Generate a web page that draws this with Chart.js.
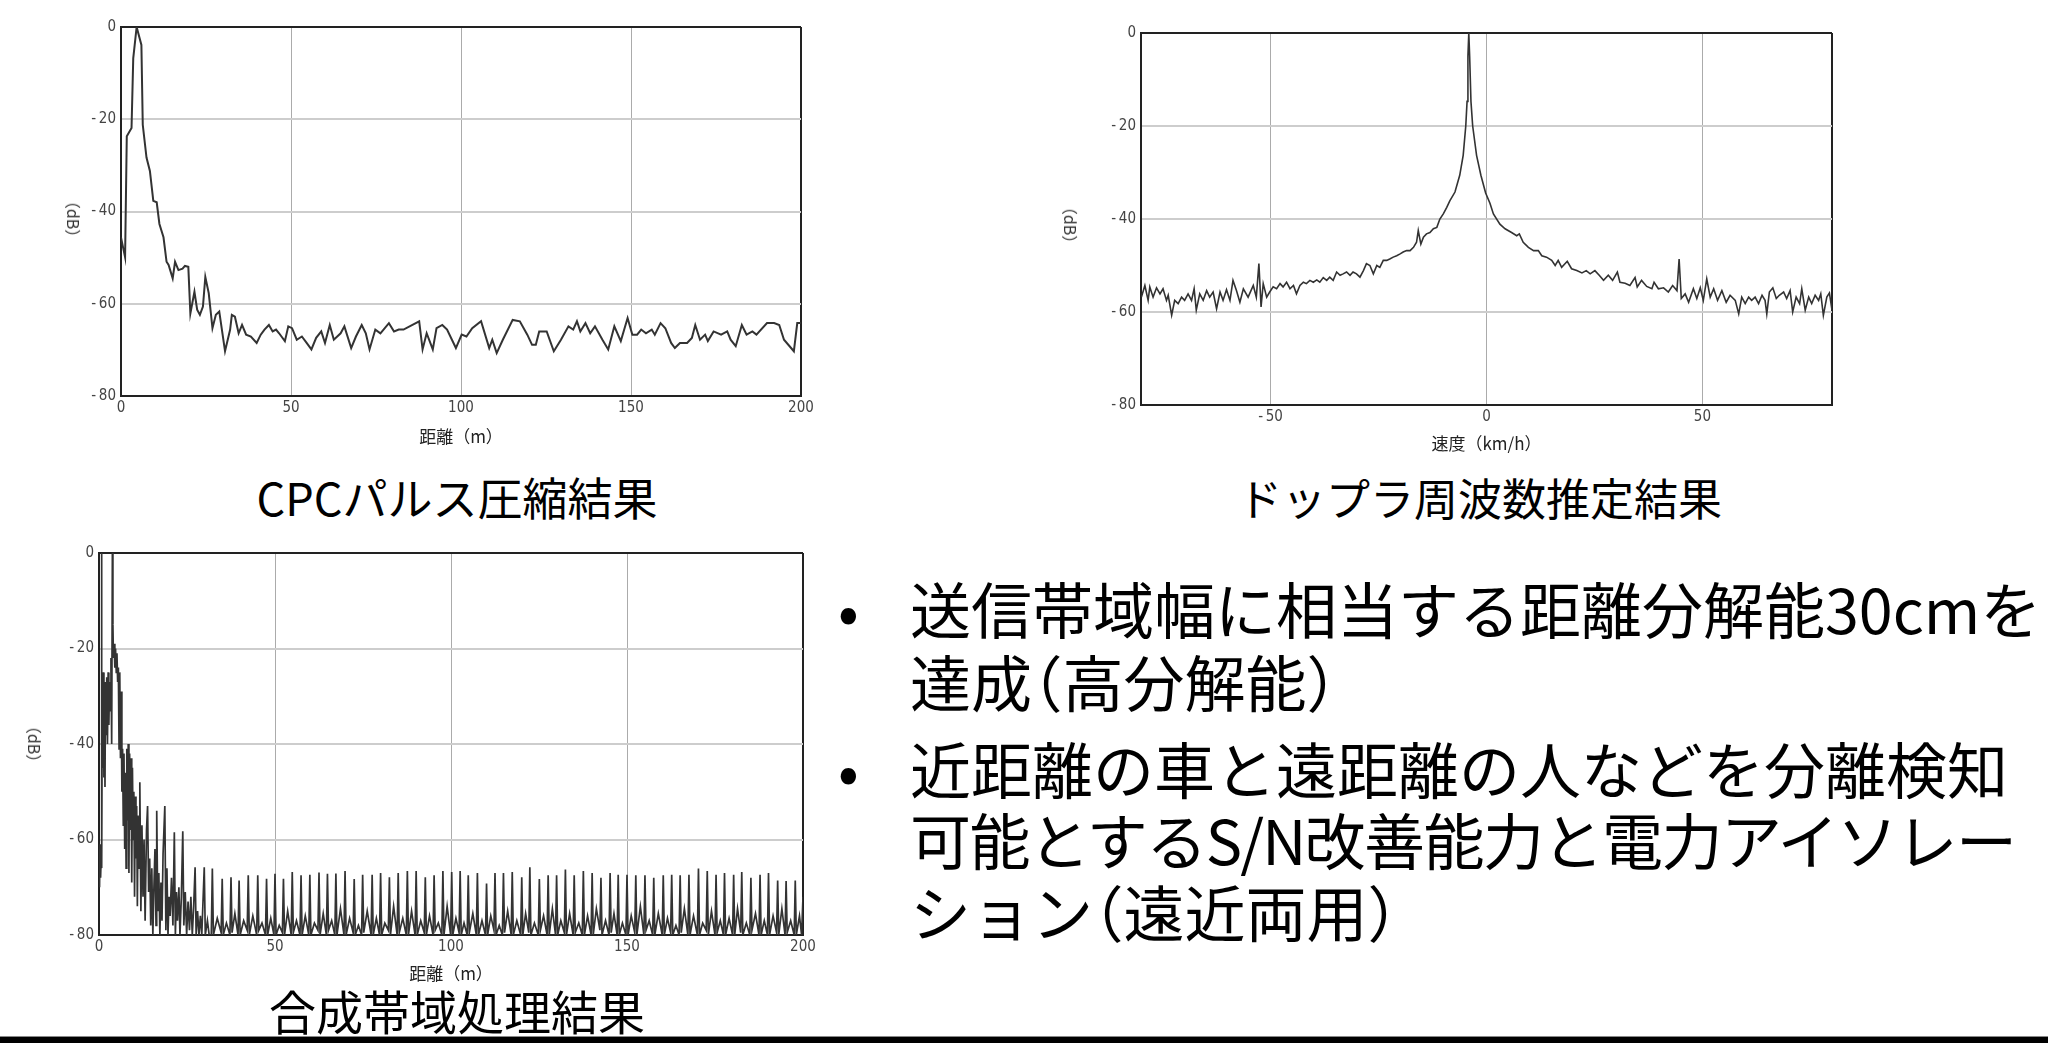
<!DOCTYPE html>
<html lang="ja">
<head>
<meta charset="utf-8">
<title>CPCパルス圧縮・ドップラ周波数推定・合成帯域処理</title>
<script src="https://cdn.jsdelivr.net/npm/chart.js@4.4.1/dist/chart.umd.min.js"></script>
<style>
  html, body { margin: 0; padding: 0; background: #fff; }
  body { width: 2048px; height: 1044px; position: relative; overflow: hidden;
         font-family: "Noto Sans CJK JP", sans-serif; color: #000; }
  .plot { position: absolute; }
  .ylab { position: absolute; font-size: 16px; color: #333; white-space: nowrap;
          transform: translate(-50%, -50%) rotate(90deg); }
  .cap { position: absolute; width: 800px; text-align: center; line-height: 1; white-space: nowrap; }
  .line { position: absolute; left: 910px; font-size: 61px; line-height: 1; white-space: nowrap;
          font-feature-settings: "halt"; }
  .tight { letter-spacing: -1.5px; }
  .narrow { letter-spacing: -0.03em; }
  .dot { position: absolute; left: 838px; font-size: 61px; line-height: 1; }
  .rule { position: absolute; left: 0; top: 1036px; width: 2048px; height: 6px;
          background: #000; border-top: 1px solid #888; }
</style>
</head>
<body>

<div class="plot" style="left:61px;top:13px;width:760px;height:435px"><canvas id="cpc"></canvas></div>
<div class="plot" style="left:1081px;top:19px;width:771px;height:438px"><canvas id="doppler"></canvas></div>
<div class="plot" style="left:39px;top:539px;width:784px;height:448px"><canvas id="synth"></canvas></div>

<div class="ylab" style="left:74px;top:219px">（dB）</div>
<div class="ylab" style="left:1071px;top:225px">（dB）</div>
<div class="ylab" style="left:35px;top:744px">（dB）</div>

<div class="cap" style="left:57px;top:474px;font-size:45px">CPCパルス圧縮結果</div>
<div class="cap" style="left:1080px;top:475px;font-size:44px">ドップラ周波数推定結果</div>
<div class="cap" style="left:57px;top:986px;font-size:47px">合成帯域処理結果</div>

<div class="dot" style="top:577px">•</div>
<div class="line" style="top:577px">送信帯域幅に相当する距離分解能30cmを</div>
<div class="line" style="top:650px">達成（高分解能）</div>
<div class="dot" style="top:737px">•</div>
<div class="line" style="top:737px">近距離の車と遠距離の人などを分離検知</div>
<div class="line tight" style="top:808px">可能とする<span class="narrow">S/N</span>改善能力と電力アイソレー</div>
<div class="line" style="top:880px">ション（遠近両用）</div>

<div class="rule"></div>

<script>
// ---- tick labels ----
const levelTicks = [0, -20, -40, -60, -80];
const rangeTicks = [0, 50, 100, 150, 200];
const speedTicks = [-50, 0, 50];

// ---- CPC pulse compression: range (m) vs level (dB) ----
const rangeDist = [
  0, 1.2, 1.7, 3.1, 3.6, 4.6, 6.0, 6.4, 7.5, 8.5,
  9.5, 10.5, 11.3, 12.5, 13.4, 14.0, 15.2, 15.9, 16.9, 18.1,
  18.8, 19.8, 20.4, 21.6, 22.4, 23.2, 24.1, 24.8, 25.8, 26.9,
  27.9, 28.9, 30.6, 32.1, 32.6, 33.5, 34.6, 35.6, 36.8, 38.2,
  39.9, 41.1, 42.2, 43.5, 44.6, 45.6, 46.5, 47.2, 48.2, 49.2,
  50.3, 51.7, 53.2, 54.6, 56.0, 57.4, 58.9, 60.0, 61.4, 62.6,
  64.6, 65.7, 67.7, 69.1, 70.8, 72.0, 73.1, 74.8, 76.3, 78.8,
  80.3, 81.7, 83.1, 87.7, 88.7, 89.9, 91.7, 92.8, 94.5, 95.9,
  98.5, 100.2, 101.6, 103.3, 105.9, 108.3, 109.2, 110.5, 112.3, 115.2,
  117.3, 119.5, 120.9, 122.0, 123.0, 125.2, 127.3, 129.4, 131.6, 133.0,
  134.1, 135.1, 136.6, 138.0, 139.4, 141.6, 143.3, 145.1, 147.0, 149.0,
  150.4, 151.8, 153.0, 154.4, 156.1, 157.0, 158.7, 160.1, 161.8, 162.9,
  164.4, 166.5, 167.9, 168.9, 170.3, 171.8, 172.6, 174.3, 176.5, 178.3,
  179.3, 180.8, 182.6, 184.0, 185.7, 186.9, 190.0, 192.1, 193.6, 195.0,
  197.9, 198.9, 200
];
const rangeLevel = [
  -45.6, -49.9, -23.7, -21.9, -6.8, 0, -3.9, -21.2, -28.3, -31.2,
  -37.7, -38.0, -42.7, -45.6, -50.9, -51.6, -54.5, -50.9, -52.7, -52.4,
  -51.8, -52.0, -62.1, -57.4, -61.3, -62.4, -60.6, -54.2, -57.7, -65.3,
  -62.4, -61.7, -70.3, -65.6, -62.4, -62.8, -66.4, -64.6, -66.7, -67.1,
  -68.5, -66.7, -65.6, -64.6, -66.0, -65.6, -66.4, -67.1, -68.1, -64.9,
  -65.3, -67.8, -67.1, -68.5, -69.9, -67.4, -66.0, -68.5, -64.6, -67.8,
  -66.4, -64.9, -69.6, -67.1, -64.6, -66.4, -69.9, -65.6, -66.4, -64.2,
  -66.0, -65.6, -65.6, -63.8, -69.9, -66.4, -69.9, -65.3, -64.6, -65.6,
  -69.6, -66.7, -67.1, -65.3, -63.8, -69.6, -67.8, -70.7, -67.8, -63.5,
  -63.8, -66.7, -68.9, -68.9, -66.0, -66.0, -70.3, -67.8, -64.9, -65.6,
  -63.8, -66.0, -64.2, -66.4, -64.9, -67.8, -69.9, -64.9, -68.1, -63.1,
  -66.7, -66.7, -65.6, -66.4, -65.6, -66.7, -64.2, -65.3, -68.5, -69.6,
  -68.5, -68.5, -67.4, -64.6, -67.8, -66.7, -68.1, -66.0, -66.7, -66.0,
  -67.8, -69.2, -64.6, -66.7, -66.0, -66.7, -64.2, -64.2, -64.6, -67.8,
  -70.3, -64.2, -64.2
];

// ---- Doppler spectrum: speed (km/h) vs level (dB) ----
const dopplerSpeed = [
  -79.9, -79.1, -78.35, -77.96, -77.2, -76.4, -75.6, -74.9, -74.1, -73.7,
  -72.9, -72.2, -71.4, -70.6, -69.9, -69.1, -68.3, -67.7, -67.2, -66.4,
  -65.6, -64.8, -64.1, -63.3, -62.5, -61.7, -61.0, -60.2, -59.4, -58.7,
  -57.9, -57.1, -56.3, -55.2, -54.0, -53.3, -52.7, -52.2, -51.7, -50.9,
  -50.2, -49.4, -48.6, -47.8, -47.1, -46.3, -45.5, -44.7, -44.0, -43.2,
  -42.4, -41.7, -40.9, -40.1, -39.3, -38.6, -37.8, -37.0, -36.3, -35.5,
  -34.7, -33.9, -33.2, -32.4, -31.6, -30.9, -30.1, -29.3, -28.5, -27.8,
  -27.0, -26.2, -25.4, -24.7, -23.9, -23.1, -22.4, -21.6, -20.8, -20.0,
  -19.3, -18.5, -17.7, -16.9, -16.2, -15.8, -15.2, -14.6, -13.9, -13.1,
  -12.3, -11.5, -10.8, -10.0, -9.2, -8.5,
  -7.3, -6.2, -5.4, -4.8, -4.5, -4.3, -4.1, -3.9, -3.6, -3.2, -2.3, -1.3, -0.2, 0.8,
  1.6, 3.1, 4.3, 5.8, 7.0, 7.6, 8.5, 9.7, 10.9, 12.0,
  12.8, 13.9, 15.1, 15.9, 16.6, 17.4, 18.7, 19.7, 20.9, 22.1,
  23.1, 24.0, 25.1, 26.1, 27.1, 28.2, 29.2, 30.3, 30.9, 32.1,
  33.2, 34.4, 34.9, 35.9, 37.1, 38.3, 38.8, 39.8, 41.0, 42.1,
  43.1, 44.1, 44.6, 45.1, 46.0, 46.8, 47.9, 48.7, 49.5, 50.2,
  51.0, 51.8, 52.6, 53.5, 54.5, 55.5, 56.4, 57.6, 58.4, 59.1,
  59.9, 60.7, 61.4, 62.2, 63.0, 63.8, 64.5, 64.9, 65.5, 66.3,
  67.1, 67.8, 68.8, 69.5, 70.3, 70.9, 71.7, 72.5, 73.0, 73.8,
  74.6, 75.3, 76.1, 76.9, 77.4, 78.0, 78.8, 79.4, 80.0
];
const dopplerLevel = [
  -56.8, -54.3, -57.5, -54.6, -56.8, -54.8, -56.1, -55.0, -57.5, -56.4,
  -60.7, -57.5, -58.2, -56.8, -57.5, -56.1, -57.5, -55.0, -59.6, -56.1,
  -57.5, -55.4, -56.8, -55.7, -59.3, -55.7, -57.5, -55.2, -57.5, -53.2,
  -55.4, -57.9, -55.0, -56.8, -54.3, -56.8, -49.6, -58.9, -53.9, -56.8,
  -55.7, -54.6, -55.0, -53.9, -54.6, -53.6, -55.0, -54.3, -56.1, -54.3,
  -53.6, -53.9, -53.2, -53.6, -53.1, -53.6, -52.6, -53.2, -52.5, -53.2,
  -51.4, -52.1, -51.8, -51.4, -52.1, -51.4, -51.8, -52.5, -51.1, -49.6,
  -50.0, -51.8, -50.0, -50.4, -48.9, -48.9, -48.6, -48.2, -47.9, -47.5,
  -47.1, -46.8, -46.8, -46.1, -45.0, -42.5, -45.4, -43.9, -43.2, -42.9,
  -42.1, -41.8, -40.0, -38.9, -37.5, -36.1,
  -34.2, -30.6, -26.3, -20.0, -14.7, -5.0, 0, -5.0, -14.7, -20.0, -26.3, -30.6, -34.4, -36.6,
  -38.9, -41.1, -42.1, -42.9, -43.6, -43.2, -45.0, -46.1, -46.8, -46.8,
  -47.9, -48.2, -48.9, -50.0, -48.9, -50.4, -49.1, -50.7, -51.1, -51.6,
  -51.1, -51.8, -51.1, -52.1, -53.2, -52.1, -53.2, -51.4, -53.6, -53.8,
  -54.3, -52.6, -54.6, -53.2, -54.5, -55.0, -53.6, -55.0, -54.8, -55.7,
  -54.3, -55.4, -48.6, -57.1, -56.1, -57.9, -55.0, -57.1, -54.8, -57.5,
  -52.9, -56.8, -55.0, -57.5, -55.4, -57.9, -56.4, -57.5, -60.4, -56.8,
  -58.2, -56.8, -57.5, -56.8, -58.2, -56.4, -57.5, -60.4, -55.7, -54.8,
  -57.1, -56.4, -55.7, -57.1, -55.4, -60.0, -56.8, -58.2, -55.0, -59.6,
  -56.8, -58.2, -56.4, -57.5, -56.1, -60.7, -56.8, -55.9, -59.6
];

// ---- Synthetic-band result: near-range decay (m, dB) ----
const nearDist = [
  0.0, 0.15, 0.3, 0.45, 0.6, 0.72, 0.8, 0.95, 1.1, 1.25,
  1.4, 1.55, 1.7, 1.85, 2.0, 2.2, 2.4, 2.6, 2.8, 3.0,
  3.2, 3.4, 3.6, 3.8, 3.95, 4.1, 4.3, 4.5, 4.7, 4.9,
  5.1, 5.3, 5.5, 5.7, 5.9, 6.1, 6.3, 6.5, 6.7, 6.9,
  7.1, 7.3, 7.5, 7.7, 7.9, 8.1, 8.3, 8.5, 8.7, 8.9,
  9.1, 9.3, 9.5, 9.7, 9.9, 10.1, 10.3, 10.5, 10.7, 10.9,
  11.1, 11.4, 11.6, 11.9, 12.2, 12.5, 12.8, 13.1, 13.5, 13.8,
  14.1, 14.4, 14.7, 15.0, 15.3, 15.6, 15.9, 16.2, 16.4, 16.7,
  17.0, 17.3, 17.6, 17.9, 18.2, 18.7, 19.0, 19.3, 19.6, 19.9,
  20.2, 20.6, 21.0, 21.4, 21.7, 22.0, 22.3, 22.7, 23.0, 23.4,
  23.8, 24.1, 24.5, 24.9, 25.3, 25.7, 26.1, 26.5, 26.9, 27.3,
  27.6, 28.0, 28.4, 28.8, 29.2, 29.9, 30.2, 30.8, 31.3, 31.9
];
const nearLevel = [
  -62, -70, -61, -68, -64, 0, -66, -26, -45, -25,
  -47, -30, -49, -27, -38, -26, -40, -25, -36, -27,
  -33, -22, -40, 0, -15, -22, -19, -24, -20, -25,
  -21, -27, -24, -41, -25, -43, -29, -50, -41, -57,
  -42, -62, -46, -66, -41, -56, -40, -67, -42, -58,
  -43, -69, -45, -60, -50, -72, -51, -64, -53, -74,
  -55, -66, -48, -75, -57, -72, -60, -77, -58, -53,
  -71, -64, -78, -66, -80, -70, -62, -78, -54, -75,
  -67, -80, -69, -77, -63, -53, -79, -66, -80, -72,
  -76, -68, -78, -58.5, -80, -71, -77, -70, -80, -72,
  -58.3, -78, -71, -80, -73, -79, -72, -80, -74, -65.8,
  -80, -75, -80, -76, -80, -65.8, -80, -77, -80, -80
];

// ---- Synthetic-band result: periodic residual spikes (m, dB) ----
const spikeDist = [
  32.2, 35.0, 37.5, 39.8, 42.4, 45.1, 47.6, 50.0, 52.4, 54.9,
  57.4, 59.9, 62.5, 64.9, 67.3, 69.9, 72.5, 74.9, 77.6, 80.0,
  82.5, 85.0, 87.6, 90.1, 92.7, 95.2, 97.7, 100.2, 102.6, 104.9,
  107.5, 110.1, 112.5, 114.9, 117.4, 120.1, 122.4, 125.1, 127.6, 130.0,
  132.5, 135.0, 137.6, 140.1, 142.6, 145.2, 147.5, 150.0, 152.5, 155.1,
  157.6, 160.3, 162.7, 165.1, 167.6, 170.3, 172.8, 175.3, 177.7, 180.3,
  182.6, 185.2, 187.8, 190.2, 192.8, 195.2, 197.8
];
const spikeLevel = [
  -66.1, -68.2, -67.9, -68.6, -67.5, -67.5, -68.2, -67.2, -68.2, -66.8,
  -67.5, -67.4, -66.9, -67.2, -67.1, -66.6, -68.3, -67.4, -67.4, -67.0,
  -67.9, -67.0, -66.6, -66.6, -67.9, -67.5, -66.6, -66.8, -66.6, -67.5,
  -67.0, -69.2, -67.0, -67.0, -66.8, -67.9, -65.8, -68.3, -67.5, -67.5,
  -66.3, -67.5, -66.6, -67.0, -68.0, -67.0, -67.4, -67.4, -67.5, -67.5,
  -68.0, -67.5, -67.4, -67.5, -67.4, -66.1, -66.6, -67.4, -67.0, -67.4,
  -66.8, -68.0, -67.4, -67.0, -68.6, -68.7, -68.6
];

// ---- Synthetic-band result: noise floor between spikes (m, dB) ----
const floorDist = [
  32.5, 33.6, 34.7, 35.3, 36.2, 37.2, 37.8, 38.6, 39.5, 40.1, 41.1, 42.1,
  42.7, 43.7, 44.8, 45.4, 46.3, 47.3, 47.9, 48.8, 49.7, 50.3, 51.2, 52.1,
  52.7, 53.6, 54.6, 55.2, 56.1, 57.1, 57.7, 58.6, 59.6, 60.2, 61.2, 62.2,
  62.8, 63.7, 64.6, 65.2, 66.1, 67.0, 67.6, 68.6, 69.6, 70.2, 71.2, 72.2,
  72.8, 73.7, 74.6, 75.2, 76.2, 77.3, 77.9, 78.8, 79.7, 80.3, 81.2, 82.2,
  82.8, 83.7, 84.7, 85.3, 86.3, 87.3, 87.9, 88.8, 89.8, 90.4, 91.4, 92.4,
  93.0, 93.9, 94.9, 95.5, 96.4, 97.4, 98.0, 98.9, 99.9, 100.5, 101.4, 102.3,
  102.9, 103.7, 104.6, 105.2, 106.2, 107.2, 107.8, 108.8, 109.8, 110.4, 111.3, 112.2,
  112.8, 113.7, 114.6, 115.2, 116.1, 117.1, 117.7, 118.7, 119.8, 120.4, 121.2, 122.1,
  122.7, 123.7, 124.8, 125.4, 126.3, 127.3, 127.9, 128.8, 129.7, 130.3, 131.2, 132.2,
  132.8, 133.7, 134.7, 135.3, 136.3, 137.3, 137.9, 138.8, 139.8, 140.4, 141.3, 142.3,
  142.9, 143.9, 144.9, 145.5, 146.3, 147.2, 147.8, 148.7, 149.7, 150.3, 151.2, 152.2,
  152.8, 153.8, 154.8, 155.4, 156.3, 157.3, 157.9, 158.9, 160.0, 160.6, 161.5, 162.4,
  163.0, 163.9, 164.8, 165.4, 166.3, 167.3, 167.9, 168.9, 170.0, 170.6, 171.5, 172.5,
  173.1, 174.0, 175.0, 175.6, 176.5, 177.4, 178.0, 179.0, 180.0, 180.6, 181.4, 182.3,
  182.9, 183.9, 184.9, 185.5, 186.5, 187.5, 188.1, 189.0, 189.9, 190.5, 191.5, 192.5,
  193.1, 194.0, 194.9, 195.5, 196.5, 197.5, 198.1, 199.0, 199.6, 200.0
];
const floorLevel = [
  -80, -76.5, -79.5, -80, -77.5, -80, -79.5, -75.5, -80, -80, -77, -79,
  -80, -76, -80, -79, -77.5, -80, -80, -76.5, -80, -80, -78, -79.5,
  -80, -75, -80, -79.5, -77, -80, -80, -76, -80, -80, -77.5, -79,
  -80, -75.5, -80, -79, -77, -80, -80, -74.5, -80, -80, -76.5, -79.5,
  -80, -78, -80, -79.5, -75, -80, -80, -76.5, -80, -80, -77.5, -79,
  -80, -74, -80, -79.5, -76.5, -80, -80, -75, -80, -80, -77, -79.5,
  -80, -76, -80, -79, -77.5, -80, -80, -74, -80, -80, -76.5, -79.5,
  -80, -77.5, -80, -79.5, -75.5, -80, -80, -77, -80, -80, -76, -79,
  -80, -78, -80, -79.5, -75, -80, -80, -77, -80, -80, -75.5, -79.5,
  -80, -77.5, -80, -79, -76, -80, -80, -74.5, -80, -80, -77, -79.5,
  -80, -75.5, -80, -79.5, -77.5, -80, -80, -76, -80, -80, -74.5, -79,
  -80, -77, -80, -79.5, -75.5, -80, -80, -77.5, -80, -80, -76, -79.5,
  -80, -74, -80, -79, -77, -80, -80, -75.5, -80, -80, -76.5, -79.5,
  -80, -78, -80, -79.5, -74.5, -80, -80, -76, -80, -80, -77.5, -79,
  -80, -75, -80, -79.5, -77, -80, -80, -76.5, -80, -80, -74.5, -79.5,
  -80, -77.5, -80, -79, -75.5, -80, -80, -77, -80, -80, -76, -79.5,
  -80, -74.5, -80, -79.5, -77, -80, -80, -76, -80, -72
];

// ---- helpers ----
function pairs(xs, ys) {
  const n = Math.min(xs.length, ys.length);
  const out = [];
  for (let i = 0; i < n; i++) out.push({ x: xs[i], y: ys[i] });
  return out;
}
const fmt = v => (v < 0 ? '-\u2009' + Math.abs(v) : String(v));
const TICK_FONT = { family: "'Liberation Sans Narrow','DejaVu Sans Condensed','Liberation Sans',sans-serif", size: 15 };
const TITLE_FONT = { family: "'Noto Sans CJK JP',sans-serif", size: 17, lineHeight: 1.2 };
const FRAME = '#222';

function plot(id, points, opt) {
  const xEdges = [opt.xMin, opt.xMax];
  const xAll = Array.from(new Set([opt.xMin, ...opt.xTicks, opt.xMax])).sort((a, b) => a - b);
  return new Chart(document.getElementById(id), {
    type: 'line',
    data: {
      datasets: [{
        data: points,
        borderColor: '#333',
        borderWidth: opt.lineWidth,
        pointRadius: 0,
        tension: 0,
        fill: false
      }]
    },
    options: {
      responsive: true,
      maintainAspectRatio: false,
      animation: false,
      events: [],
      layout: { padding: { top: 12, right: 20, left: 0, bottom: 0 } },
      plugins: { legend: { display: false }, tooltip: { enabled: false } },
      scales: {
        x: {
          type: 'linear',
          min: opt.xMin,
          max: opt.xMax,
          afterBuildTicks: s => { s.ticks = xAll.map(v => ({ value: v })); },
          afterFit: s => { s.height = 52; },
          ticks: {
            autoSkip: false, maxRotation: 0, padding: 3,
            font: TICK_FONT, color: '#444',
            callback: v => (opt.xTicks.includes(v) ? fmt(v) : '')
          },
          grid: {
            drawTicks: false,
            color: c => (xEdges.includes(c.tick.value) ? FRAME : '#ababab'),
            lineWidth: c => (xEdges.includes(c.tick.value) ? 2 : 1)
          },
          border: { color: FRAME, width: 2 },
          title: {
            display: true, text: opt.xTitle, color: '#222', font: TITLE_FONT,
            padding: { top: 0, bottom: opt.titlePad }
          }
        },
        y: {
          type: 'linear',
          min: -80,
          max: 0,
          afterBuildTicks: s => { s.ticks = levelTicks.map(v => ({ value: v })); },
          afterFit: s => { s.width = 60; },
          ticks: { padding: 5, font: TICK_FONT, color: '#444', callback: v => fmt(v) },
          grid: {
            drawTicks: false,
            color: c => (c.tick.value === 0 || c.tick.value === -80 ? FRAME : '#cdcdcd'),
            lineWidth: 2
          },
          border: { color: FRAME, width: 2 }
        }
      }
    }
  });
}

plot('cpc', pairs(rangeDist, rangeLevel), {
  xMin: 0, xMax: 200, xTicks: rangeTicks, lineWidth: 2, xTitle: '距離（m）', titlePad: 1
});

plot('doppler', pairs(dopplerSpeed, dopplerLevel), {
  xMin: -80, xMax: 80, xTicks: speedTicks, lineWidth: 1.6, xTitle: '速度（km/h）', titlePad: 3
});

const synthPoints = pairs(nearDist, nearLevel)
  .concat(pairs(spikeDist, spikeLevel), pairs(floorDist, floorLevel))
  .sort((a, b) => a.x - b.x);
plot('synth', synthPoints, {
  xMin: 0, xMax: 200, xTicks: rangeTicks, lineWidth: 1.7, xTitle: '距離（m）', titlePad: 3
});
</script>
</body>
</html>
